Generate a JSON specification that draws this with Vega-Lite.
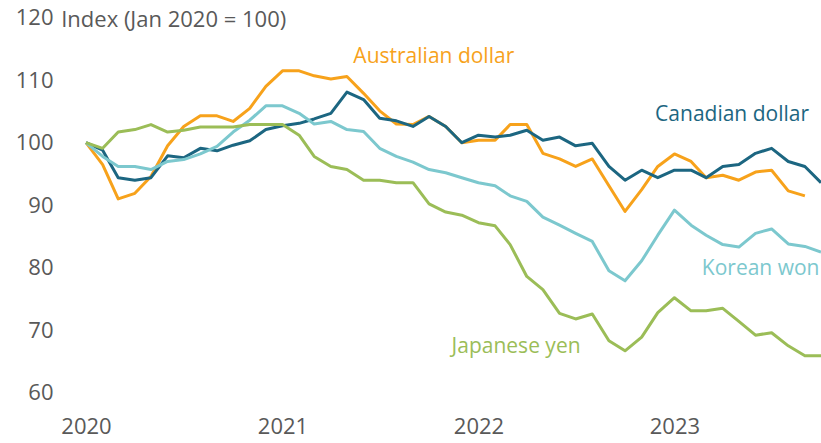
{
  "$schema": "https://vega.github.io/schema/vega-lite/v6.json",
  "width": 735,
  "height": 375,
  "autosize": {"type": "none"},
  "padding": {"left": 86, "top": 17.7, "right": 0, "bottom": 50.3},
  "background": "white",
  "config": {"view": {"stroke": null}, "font": "Open Sans"},
  "datasets": {
    "series": [
      {"date":"2020-01-01","currency":"Australian dollar","value":100},
      {"date":"2020-02-01","currency":"Australian dollar","value":96.5},
      {"date":"2020-03-01","currency":"Australian dollar","value":91.0},
      {"date":"2020-04-01","currency":"Australian dollar","value":91.9},
      {"date":"2020-05-01","currency":"Australian dollar","value":94.6},
      {"date":"2020-06-01","currency":"Australian dollar","value":99.5},
      {"date":"2020-07-01","currency":"Australian dollar","value":102.6},
      {"date":"2020-08-01","currency":"Australian dollar","value":104.3},
      {"date":"2020-09-01","currency":"Australian dollar","value":104.3},
      {"date":"2020-10-01","currency":"Australian dollar","value":103.4},
      {"date":"2020-11-01","currency":"Australian dollar","value":105.5},
      {"date":"2020-12-01","currency":"Australian dollar","value":109.0},
      {"date":"2021-01-01","currency":"Australian dollar","value":111.5},
      {"date":"2021-02-01","currency":"Australian dollar","value":111.5},
      {"date":"2021-03-01","currency":"Australian dollar","value":110.7},
      {"date":"2021-04-01","currency":"Australian dollar","value":110.2},
      {"date":"2021-05-01","currency":"Australian dollar","value":110.6},
      {"date":"2021-06-01","currency":"Australian dollar","value":107.9},
      {"date":"2021-07-01","currency":"Australian dollar","value":105.1},
      {"date":"2021-08-01","currency":"Australian dollar","value":103.0},
      {"date":"2021-09-01","currency":"Australian dollar","value":102.9},
      {"date":"2021-10-01","currency":"Australian dollar","value":104.2},
      {"date":"2021-11-01","currency":"Australian dollar","value":102.6},
      {"date":"2021-12-01","currency":"Australian dollar","value":100.0},
      {"date":"2022-01-01","currency":"Australian dollar","value":100.4},
      {"date":"2022-02-01","currency":"Australian dollar","value":100.4},
      {"date":"2022-03-01","currency":"Australian dollar","value":102.9},
      {"date":"2022-04-01","currency":"Australian dollar","value":102.9},
      {"date":"2022-05-01","currency":"Australian dollar","value":98.3},
      {"date":"2022-06-01","currency":"Australian dollar","value":97.4},
      {"date":"2022-07-01","currency":"Australian dollar","value":96.2},
      {"date":"2022-08-01","currency":"Australian dollar","value":97.4},
      {"date":"2022-09-01","currency":"Australian dollar","value":93.1},
      {"date":"2022-10-01","currency":"Australian dollar","value":89.0},
      {"date":"2022-11-01","currency":"Australian dollar","value":92.5},
      {"date":"2022-12-01","currency":"Australian dollar","value":96.2},
      {"date":"2023-01-01","currency":"Australian dollar","value":98.2},
      {"date":"2023-02-01","currency":"Australian dollar","value":97.0},
      {"date":"2023-03-01","currency":"Australian dollar","value":94.4},
      {"date":"2023-04-01","currency":"Australian dollar","value":94.8},
      {"date":"2023-05-01","currency":"Australian dollar","value":94.0},
      {"date":"2023-06-01","currency":"Australian dollar","value":95.3},
      {"date":"2023-07-01","currency":"Australian dollar","value":95.6},
      {"date":"2023-08-01","currency":"Australian dollar","value":92.3},
      {"date":"2023-09-01","currency":"Australian dollar","value":91.5},

      {"date":"2020-01-01","currency":"Canadian dollar","value":100},
      {"date":"2020-02-01","currency":"Canadian dollar","value":98.8},
      {"date":"2020-03-01","currency":"Canadian dollar","value":94.4},
      {"date":"2020-04-01","currency":"Canadian dollar","value":94.0},
      {"date":"2020-05-01","currency":"Canadian dollar","value":94.4},
      {"date":"2020-06-01","currency":"Canadian dollar","value":97.9},
      {"date":"2020-07-01","currency":"Canadian dollar","value":97.6},
      {"date":"2020-08-01","currency":"Canadian dollar","value":99.1},
      {"date":"2020-09-01","currency":"Canadian dollar","value":98.7},
      {"date":"2020-10-01","currency":"Canadian dollar","value":99.6},
      {"date":"2020-11-01","currency":"Canadian dollar","value":100.3},
      {"date":"2020-12-01","currency":"Canadian dollar","value":102.1},
      {"date":"2021-01-01","currency":"Canadian dollar","value":102.7},
      {"date":"2021-02-01","currency":"Canadian dollar","value":103.1},
      {"date":"2021-03-01","currency":"Canadian dollar","value":103.8},
      {"date":"2021-04-01","currency":"Canadian dollar","value":104.7},
      {"date":"2021-05-01","currency":"Canadian dollar","value":108.1},
      {"date":"2021-06-01","currency":"Canadian dollar","value":106.9},
      {"date":"2021-07-01","currency":"Canadian dollar","value":103.9},
      {"date":"2021-08-01","currency":"Canadian dollar","value":103.5},
      {"date":"2021-09-01","currency":"Canadian dollar","value":102.6},
      {"date":"2021-10-01","currency":"Canadian dollar","value":104.2},
      {"date":"2021-11-01","currency":"Canadian dollar","value":102.6},
      {"date":"2021-12-01","currency":"Canadian dollar","value":100.0},
      {"date":"2022-01-01","currency":"Canadian dollar","value":101.2},
      {"date":"2022-02-01","currency":"Canadian dollar","value":100.9},
      {"date":"2022-03-01","currency":"Canadian dollar","value":101.2},
      {"date":"2022-04-01","currency":"Canadian dollar","value":102.0},
      {"date":"2022-05-01","currency":"Canadian dollar","value":100.4},
      {"date":"2022-06-01","currency":"Canadian dollar","value":100.9},
      {"date":"2022-07-01","currency":"Canadian dollar","value":99.5},
      {"date":"2022-08-01","currency":"Canadian dollar","value":99.9},
      {"date":"2022-09-01","currency":"Canadian dollar","value":96.2},
      {"date":"2022-10-01","currency":"Canadian dollar","value":94.0},
      {"date":"2022-11-01","currency":"Canadian dollar","value":95.6},
      {"date":"2022-12-01","currency":"Canadian dollar","value":94.4},
      {"date":"2023-01-01","currency":"Canadian dollar","value":95.6},
      {"date":"2023-02-01","currency":"Canadian dollar","value":95.6},
      {"date":"2023-03-01","currency":"Canadian dollar","value":94.4},
      {"date":"2023-04-01","currency":"Canadian dollar","value":96.2},
      {"date":"2023-05-01","currency":"Canadian dollar","value":96.5},
      {"date":"2023-06-01","currency":"Canadian dollar","value":98.3},
      {"date":"2023-07-01","currency":"Canadian dollar","value":99.1},
      {"date":"2023-08-01","currency":"Canadian dollar","value":97.0},
      {"date":"2023-09-01","currency":"Canadian dollar","value":96.2},
      {"date":"2023-10-01","currency":"Canadian dollar","value":93.6},

      {"date":"2020-01-01","currency":"Korean won","value":100},
      {"date":"2020-02-01","currency":"Korean won","value":97.8},
      {"date":"2020-03-01","currency":"Korean won","value":96.2},
      {"date":"2020-04-01","currency":"Korean won","value":96.2},
      {"date":"2020-05-01","currency":"Korean won","value":95.7},
      {"date":"2020-06-01","currency":"Korean won","value":97.0},
      {"date":"2020-07-01","currency":"Korean won","value":97.3},
      {"date":"2020-08-01","currency":"Korean won","value":98.2},
      {"date":"2020-09-01","currency":"Korean won","value":99.4},
      {"date":"2020-10-01","currency":"Korean won","value":101.7},
      {"date":"2020-11-01","currency":"Korean won","value":103.6},
      {"date":"2020-12-01","currency":"Korean won","value":105.9},
      {"date":"2021-01-01","currency":"Korean won","value":105.9},
      {"date":"2021-02-01","currency":"Korean won","value":104.7},
      {"date":"2021-03-01","currency":"Korean won","value":103.0},
      {"date":"2021-04-01","currency":"Korean won","value":103.4},
      {"date":"2021-05-01","currency":"Korean won","value":102.1},
      {"date":"2021-06-01","currency":"Korean won","value":101.8},
      {"date":"2021-07-01","currency":"Korean won","value":99.1},
      {"date":"2021-08-01","currency":"Korean won","value":97.8},
      {"date":"2021-09-01","currency":"Korean won","value":96.9},
      {"date":"2021-10-01","currency":"Korean won","value":95.7},
      {"date":"2021-11-01","currency":"Korean won","value":95.2},
      {"date":"2021-12-01","currency":"Korean won","value":94.4},
      {"date":"2022-01-01","currency":"Korean won","value":93.6},
      {"date":"2022-02-01","currency":"Korean won","value":93.1},
      {"date":"2022-03-01","currency":"Korean won","value":91.5},
      {"date":"2022-04-01","currency":"Korean won","value":90.6},
      {"date":"2022-05-01","currency":"Korean won","value":88.1},
      {"date":"2022-06-01","currency":"Korean won","value":86.8},
      {"date":"2022-07-01","currency":"Korean won","value":85.5},
      {"date":"2022-08-01","currency":"Korean won","value":84.2},
      {"date":"2022-09-01","currency":"Korean won","value":79.5},
      {"date":"2022-10-01","currency":"Korean won","value":77.9},
      {"date":"2022-11-01","currency":"Korean won","value":81.1},
      {"date":"2022-12-01","currency":"Korean won","value":85.2},
      {"date":"2023-01-01","currency":"Korean won","value":89.2},
      {"date":"2023-02-01","currency":"Korean won","value":86.8},
      {"date":"2023-03-01","currency":"Korean won","value":85.2},
      {"date":"2023-04-01","currency":"Korean won","value":83.7},
      {"date":"2023-05-01","currency":"Korean won","value":83.3},
      {"date":"2023-06-01","currency":"Korean won","value":85.5},
      {"date":"2023-07-01","currency":"Korean won","value":86.2},
      {"date":"2023-08-01","currency":"Korean won","value":83.8},
      {"date":"2023-09-01","currency":"Korean won","value":83.4},
      {"date":"2023-10-01","currency":"Korean won","value":82.5},

      {"date":"2020-01-01","currency":"Japanese yen","value":100},
      {"date":"2020-02-01","currency":"Japanese yen","value":99.1},
      {"date":"2020-03-01","currency":"Japanese yen","value":101.7},
      {"date":"2020-04-01","currency":"Japanese yen","value":102.1},
      {"date":"2020-05-01","currency":"Japanese yen","value":102.9},
      {"date":"2020-06-01","currency":"Japanese yen","value":101.7},
      {"date":"2020-07-01","currency":"Japanese yen","value":102.0},
      {"date":"2020-08-01","currency":"Japanese yen","value":102.5},
      {"date":"2020-09-01","currency":"Japanese yen","value":102.5},
      {"date":"2020-10-01","currency":"Japanese yen","value":102.5},
      {"date":"2020-11-01","currency":"Japanese yen","value":102.9},
      {"date":"2020-12-01","currency":"Japanese yen","value":102.9},
      {"date":"2021-01-01","currency":"Japanese yen","value":102.9},
      {"date":"2021-02-01","currency":"Japanese yen","value":101.2},
      {"date":"2021-03-01","currency":"Japanese yen","value":97.8},
      {"date":"2021-04-01","currency":"Japanese yen","value":96.2},
      {"date":"2021-05-01","currency":"Japanese yen","value":95.7},
      {"date":"2021-06-01","currency":"Japanese yen","value":94.0},
      {"date":"2021-07-01","currency":"Japanese yen","value":94.0},
      {"date":"2021-08-01","currency":"Japanese yen","value":93.6},
      {"date":"2021-09-01","currency":"Japanese yen","value":93.6},
      {"date":"2021-10-01","currency":"Japanese yen","value":90.2},
      {"date":"2021-11-01","currency":"Japanese yen","value":88.9},
      {"date":"2021-12-01","currency":"Japanese yen","value":88.4},
      {"date":"2022-01-01","currency":"Japanese yen","value":87.2},
      {"date":"2022-02-01","currency":"Japanese yen","value":86.7},
      {"date":"2022-03-01","currency":"Japanese yen","value":83.7},
      {"date":"2022-04-01","currency":"Japanese yen","value":78.6},
      {"date":"2022-05-01","currency":"Japanese yen","value":76.5},
      {"date":"2022-06-01","currency":"Japanese yen","value":72.7},
      {"date":"2022-07-01","currency":"Japanese yen","value":71.8},
      {"date":"2022-08-01","currency":"Japanese yen","value":72.6},
      {"date":"2022-09-01","currency":"Japanese yen","value":68.3},
      {"date":"2022-10-01","currency":"Japanese yen","value":66.7},
      {"date":"2022-11-01","currency":"Japanese yen","value":68.9},
      {"date":"2022-12-01","currency":"Japanese yen","value":72.8},
      {"date":"2023-01-01","currency":"Japanese yen","value":75.2},
      {"date":"2023-02-01","currency":"Japanese yen","value":73.1},
      {"date":"2023-03-01","currency":"Japanese yen","value":73.1},
      {"date":"2023-04-01","currency":"Japanese yen","value":73.5},
      {"date":"2023-05-01","currency":"Japanese yen","value":71.4},
      {"date":"2023-06-01","currency":"Japanese yen","value":69.2},
      {"date":"2023-07-01","currency":"Japanese yen","value":69.6},
      {"date":"2023-08-01","currency":"Japanese yen","value":67.5},
      {"date":"2023-09-01","currency":"Japanese yen","value":65.9},
      {"date":"2023-10-01","currency":"Japanese yen","value":65.9}
    ],
    "labels": [
      {"date":"2021-05-13","currency":"Australian dollar","value":112.8},
      {"date":"2022-11-26","currency":"Canadian dollar","value":103.5},
      {"date":"2023-02-21","currency":"Korean won","value":78.8},
      {"date":"2021-11-12","currency":"Japanese yen","value":66.3}
    ]
  },
  "encoding": {
    "x": {
      "field": "date",
      "type": "temporal",
      "scale": {"type": "utc", "nice": false, "domain": [{"year": 2020, "month": 1, "date": 1, "utc": true}, {"year": 2023, "month": 10, "date": 1, "utc": true}]},
      "axis": {
        "title": null,
        "format": "%Y",
        "formatType": "utc",
        "values": [
          {"year": 2020, "month": 1, "date": 1, "utc": true},
          {"year": 2021, "month": 1, "date": 1, "utc": true},
          {"year": 2022, "month": 1, "date": 1, "utc": true},
          {"year": 2023, "month": 1, "date": 1, "utc": true}
        ],
        "grid": false,
        "domain": false,
        "ticks": false,
        "tickSize": 0,
        "labelPadding": 24,
        "labelFont": "Open Sans",
        "labelFontSize": 22,
        "labelColor": "#595959",
        "labelAlign": "center",
        "labelFlush": false,
        "labelOverlap": false
      }
    },
    "y": {
      "field": "value",
      "type": "quantitative",
      "scale": {"domain": [60, 120], "nice": false, "zero": false},
      "axis": {
        "title": "Index (Jan 2020 = 100)",
        "titleAngle": 0,
        "titleAlign": "left",
        "titleBaseline": "alphabetic",
        "titleX": -25.3,
        "titleY": 9,
        "titleFont": "Open Sans",
        "titleFontSize": 22,
        "titleFontWeight": "normal",
        "titleColor": "#595959",
        "values": [60, 70, 80, 90, 100, 110, 120],
        "grid": false,
        "domain": false,
        "ticks": false,
        "tickSize": 0,
        "labelPadding": 33,
        "labelFont": "Open Sans",
        "labelFontSize": 22,
        "labelColor": "#595959"
      }
    },
    "color": {
      "field": "currency",
      "type": "nominal",
      "scale": {
        "domain": ["Australian dollar", "Canadian dollar", "Korean won", "Japanese yen"],
        "range": ["#F7A21B", "#1C6681", "#7CC8CE", "#9BBD57"]
      },
      "legend": null
    }
  },
  "layer": [
    {
      "data": {"name": "series"},
      "mark": {"type": "line", "strokeWidth": 3, "strokeJoin": "round", "clip": false},
      "encoding": {"detail": {"field": "currency"}}
    },
    {
      "data": {"name": "labels"},
      "mark": {"type": "text", "align": "left", "baseline": "alphabetic", "font": "Open Sans", "fontSize": 21},
      "encoding": {"text": {"field": "currency"}}
    }
  ]
}
